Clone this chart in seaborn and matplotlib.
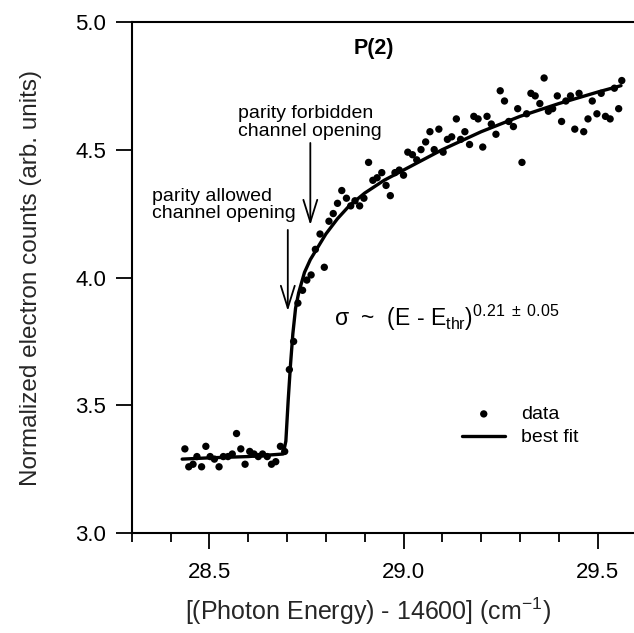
import matplotlib
matplotlib.use("Agg")
import matplotlib.pyplot as plt
import seaborn as sns
from matplotlib.ticker import MultipleLocator

data_x = [28.437, 28.447, 28.458, 28.468, 28.480, 28.491, 28.502, 28.513, 28.525, 28.536,
          28.548, 28.559, 28.570, 28.581, 28.592, 28.604, 28.615, 28.626, 28.637, 28.649,
          28.660, 28.671, 28.683, 28.694, 28.706, 28.717, 28.728, 28.740, 28.751, 28.762,
          28.773, 28.785, 28.796, 28.808, 28.819, 28.830, 28.841, 28.853, 28.864, 28.875,
          28.887, 28.898, 28.910, 28.921, 28.932, 28.944, 28.955, 28.966, 28.978, 28.989,
          29.000, 29.011, 29.023, 29.034, 29.045, 29.057, 29.068, 29.079, 29.091, 29.102,
          29.113, 29.124, 29.136, 29.147, 29.158, 29.170, 29.181, 29.192, 29.204, 29.215,
          29.226, 29.238, 29.249, 29.260, 29.271, 29.283, 29.294, 29.305, 29.317, 29.328,
          29.339, 29.351, 29.362, 29.373, 29.384, 29.396, 29.407, 29.418, 29.430, 29.441,
          29.452, 29.464, 29.475, 29.486, 29.498, 29.509, 29.520, 29.532, 29.543, 29.554,
          29.562]
data_y = [3.33, 3.26, 3.27, 3.30, 3.26, 3.34, 3.30, 3.29, 3.26, 3.30,
          3.30, 3.31, 3.39, 3.33, 3.27, 3.32, 3.31, 3.30, 3.31, 3.30,
          3.27, 3.28, 3.34, 3.32, 3.64, 3.75, 3.90, 3.95, 3.99, 4.01,
          4.11, 4.17, 4.04, 4.22, 4.25, 4.29, 4.34, 4.31, 4.28, 4.30,
          4.28, 4.31, 4.45, 4.38, 4.39, 4.41, 4.36, 4.32, 4.41, 4.42,
          4.40, 4.49, 4.48, 4.46, 4.50, 4.53, 4.57, 4.50, 4.58, 4.49,
          4.54, 4.55, 4.62, 4.54, 4.57, 4.52, 4.63, 4.62, 4.51, 4.63,
          4.60, 4.56, 4.73, 4.69, 4.61, 4.59, 4.66, 4.45, 4.64, 4.72,
          4.71, 4.68, 4.78, 4.65, 4.66, 4.71, 4.61, 4.69, 4.71, 4.58,
          4.72, 4.57, 4.62, 4.69, 4.64, 4.72, 4.63, 4.62, 4.74, 4.66,
          4.77]

# best fit curve
fit_x = [28.43, 28.50, 28.60, 28.69, 28.697, 28.703, 28.709, 28.715, 28.722, 28.730,
         28.745, 28.76, 28.78, 28.80, 28.83, 28.86, 28.90, 28.95, 29.00, 29.10,
         29.20, 29.30, 29.40, 29.50, 29.56]
fit_y = [3.29, 3.295, 3.30, 3.31, 3.36, 3.52, 3.66, 3.78, 3.88, 3.94,
         4.02, 4.07, 4.12, 4.17, 4.23, 4.28, 4.33, 4.38, 4.42, 4.50,
         4.57, 4.63, 4.68, 4.725, 4.75]

x_ticks = [28.5, 29.0, 29.5]
y_ticks = [3.0, 3.5, 4.0, 4.5, 5.0]

sns.set_theme(style="ticks")
plt.rcParams['font.family'] = ['Liberation Sans', 'DejaVu Sans']
plt.rcParams['mathtext.fontset'] = 'custom'
plt.rcParams['mathtext.rm'] = 'Liberation Sans'
plt.rcParams['mathtext.it'] = 'Liberation Sans:italic'
plt.rcParams['mathtext.bf'] = 'Liberation Sans:bold'
plt.rcParams['text.color'] = 'black'

fig = plt.figure(figsize=(6.34, 6.33), dpi=100)
ax = fig.add_axes([0.2077, 0.1575, 0.7963, 0.8082])

sns.scatterplot(x=data_x, y=data_y, ax=ax, color='black', s=28, edgecolor='none',
                label='data', zorder=3)
sns.lineplot(x=fit_x, y=fit_y, ax=ax, color='black', lw=2.4, label='best fit',
             sort=False, estimator=None)

ax.set_xlim(28.3, 29.6)
ax.set_ylim(3.0, 5.0)
ax.set_xticks(x_ticks)
ax.set_xticklabels([f"{t:.1f}" for t in x_ticks])
ax.xaxis.set_minor_locator(MultipleLocator(0.1))
ax.set_yticks(y_ticks)
ax.set_yticklabels([f"{t:.1f}" for t in y_ticks])

ax.tick_params(axis='both', which='major', direction='out', length=11.5, width=1.3,
               labelsize=16, colors='black', pad=7)
ax.tick_params(axis='x', which='major', pad=9)
ax.tick_params(axis='x', which='minor', direction='out', length=6.5, width=1.3, colors='black')

ax.spines['right'].set_visible(False)
for s in ['top', 'left', 'bottom']:
    ax.spines[s].set_linewidth(1.5)
    ax.spines[s].set_color('black')

ax.set_xlabel('[(Photon Energy) - 14600] (cm$^{-1}$)', fontsize=18)
ax.xaxis.set_label_coords(0.469, -0.122)
ax.set_ylabel('Normalized electron counts (arb. units)', fontsize=17.5)
ax.yaxis.set_label_coords(-0.178, 0.5)

# annotations
ax.text(28.924, 4.897, 'P(2)', fontsize=15.5, fontweight='bold', ha='center', va='center')
ax.text(28.574, 4.607, 'parity forbidden\nchannel opening', fontsize=14,
        ha='left', va='center', linespacing=1.05)
ax.text(28.352, 4.283, 'parity allowed\nchannel opening', fontsize=14,
        ha='left', va='center', linespacing=1.05)
arrow = dict(arrowstyle='->,head_length=0.8,head_width=0.25', lw=1.3, color='black',
             mutation_scale=20, shrinkA=0, shrinkB=0)
ax.annotate('', xy=(28.760, 4.205), xytext=(28.760, 4.526), arrowprops=arrow)
ax.annotate('', xy=(28.702, 3.869), xytext=(28.702, 4.186), arrowprops=arrow)

ax.text(28.821, 3.81, 'σ  ~  (E - E$_{\\mathrm{thr}}$)$^{0.21\\ \\pm\\ 0.05}$',
        fontsize=16.5, ha='left', va='baseline')

ax.legend(loc='upper left', bbox_to_anchor=(0.655, 0.25), frameon=False, fontsize=14,
          handlelength=2.2, handletextpad=0.8, borderaxespad=0, borderpad=0,
          labelspacing=0.3)

plt.savefig('out.png', dpi=100)
